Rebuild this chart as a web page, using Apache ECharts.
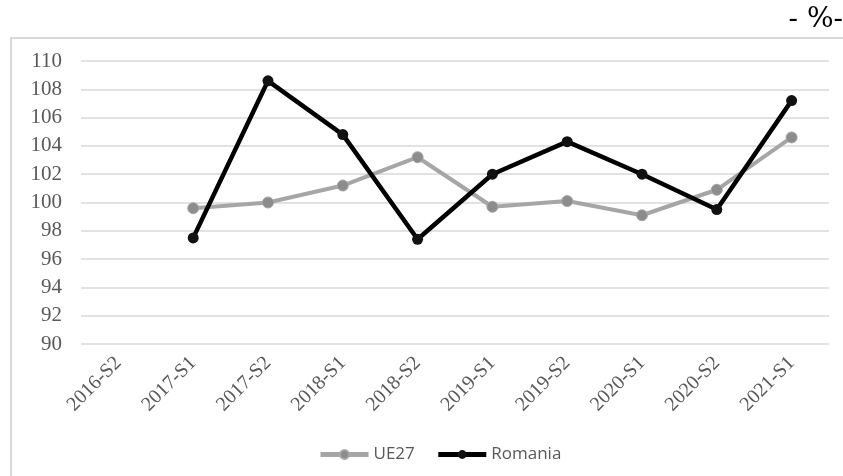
<!DOCTYPE html>
<html>
<head>
<meta charset="utf-8">
<script src="https://cdn.jsdelivr.net/npm/echarts@6/dist/echarts.min.js"></script>
<style>
  html, body { margin: 0; padding: 0; background: #fff; }
  #chart { width: 843px; height: 476px; }
</style>
</head>
<body>
<div id="chart"></div>
<script>
// Semesters on the x axis
const categories = ['2016-S2', '2017-S1', '2017-S2', '2018-S1', '2018-S2',
                    '2019-S1', '2019-S2', '2020-S1', '2020-S2', '2021-S1'];
// Index values (%), no value for 2016-S2
const ue27 = [null, 99.6, 100.0, 101.2, 103.2, 99.7, 100.1, 99.1, 100.9, 104.6];
const romania = [null, 97.5, 108.6, 104.8, 97.4, 102.0, 104.3, 102.0, 99.5, 107.2];
// Y axis range
const yMin = 90, yMax = 110, yStep = 2;

const serif = '"Liberation Serif", "DejaVu Serif", serif';

const chart = echarts.init(document.getElementById('chart'));
chart.setOption({
  animation: false,
  backgroundColor: '#ffffff',
  graphic: [
    {
      type: 'rect',
      shape: { x: 11, y: 38, width: 900, height: 500 },
      style: { fill: 'none', stroke: '#d9d9d9', lineWidth: 2 },
      silent: true
    },
    {
      type: 'text',
      right: 0, top: 6,
      style: { text: '- %-', font: '28px "DejaVu Serif", serif', fill: '#000' }
    }
  ],
  grid: { left: 81, right: 14, top: 61, bottom: 132 },
  legend: {
    top: 441,
    left: 313,
    itemWidth: 48,
    itemHeight: 11,
    itemGap: 21,
    lineStyle: { width: 5 },
    textStyle: { fontFamily: '"Open Sans", sans-serif', fontSize: 17, color: '#595959' },
    data: ['UE27', 'Romania']
  },
  xAxis: {
    type: 'category',
    data: categories,
    boundaryGap: true,
    axisLine: { show: false },
    axisTick: { show: false },
    axisLabel: {
      rotate: 45,
      margin: 16,
      interval: 0,
      fontFamily: serif,
      fontSize: 20,
      color: '#595959'
    }
  },
  yAxis: {
    type: 'value',
    min: yMin, max: yMax, interval: yStep,
    axisLine: { show: false },
    axisTick: { show: false },
    axisLabel: {
      margin: 19,
      fontFamily: serif,
      fontSize: 21,
      color: '#595959'
    },
    splitLine: { lineStyle: { color: '#d9d9d9', width: 1.5 } }
  },
  series: [
    {
      name: 'UE27',
      type: 'line',
      data: ue27,
      symbol: 'circle',
      symbolSize: 11,
      lineStyle: { color: '#a6a6a6', width: 4 },
      itemStyle: { color: '#8c8c8c', borderColor: '#a6a6a6', borderWidth: 1 },
      color: '#a6a6a6'
    },
    {
      name: 'Romania',
      type: 'line',
      data: romania,
      symbol: 'circle',
      symbolSize: 11,
      lineStyle: { color: '#000000', width: 4.5 },
      itemStyle: { color: '#111111' },
      color: '#000000'
    }
  ]
});
</script>
</body>
</html>
